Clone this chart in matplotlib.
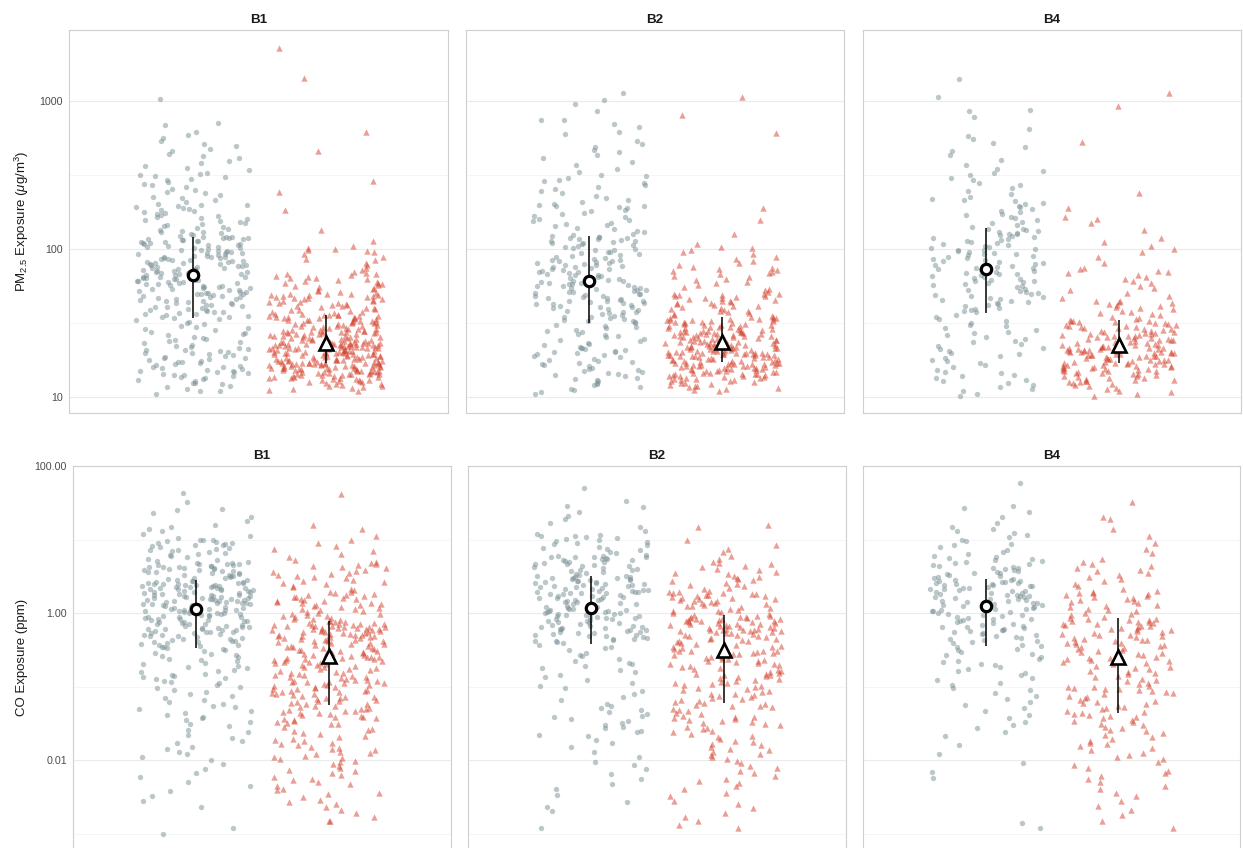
import numpy as np
import matplotlib
matplotlib.use("Agg")
import matplotlib.pyplot as plt
from matplotlib.ticker import FixedLocator, FixedFormatter, NullFormatter

plt.rcParams['font.family'] = ['Liberation Sans', 'DejaVu Sans']
plt.rcParams['mathtext.fontset'] = 'custom'
plt.rcParams['mathtext.rm'] = 'Liberation Sans'
plt.rcParams['mathtext.it'] = 'Liberation Sans:italic'

panels = ["B1", "B2", "B4"]

# ---------------- PM2.5 exposure (ug/m3) ----------------
pm25_b1_gray = [10.5, 10.9, 11.0, 11.4, 11.7, 11.8, 12.2, 12.4, 12.5, 12.9, 13.0, 13.2, 13.5, 13.6, 13.9, 14.0, 14.1, 14.4, 14.5, 14.7, 14.8, 14.9,
    15.1, 15.3, 15.4, 15.7, 15.9, 16.0, 16.3, 16.5, 16.6, 16.9, 17.2, 17.3, 17.6, 17.8, 18.0, 18.3, 18.4, 18.7, 19.0, 19.2, 19.4, 19.7, 19.9, 20.2, 20.4, 20.7, 20.9, 21.2, 21.5, 21.8,
    22.1, 22.6, 23.0, 23.4, 23.9, 24.3, 24.8, 25.2, 25.6, 26.1, 26.7, 27.1, 27.6, 28.2, 28.7, 29.3, 29.8, 30.4, 31.0, 31.7, 32.3, 33.0, 33.7,
    34.2, 34.6, 35.0, 35.3, 35.8, 36.2, 36.5, 37.0, 37.4, 37.7, 38.2, 38.6, 39.0, 39.5, 39.9, 40.3, 40.8, 41.2, 41.7, 42.1, 42.6, 43.0, 43.5, 44.0, 44.4, 44.9, 45.3, 45.8, 46.2, 46.7, 47.1, 47.6, 48.0, 48.5, 48.9, 49.3, 49.6, 49.9,
    50.3, 50.7, 51.2, 51.6, 52.1, 52.5, 53.0, 53.4, 53.9, 54.3, 54.8, 55.3, 55.7, 56.2, 56.7, 57.1, 57.6, 58.1, 58.5, 59.0, 59.5, 60.0, 60.5, 61.0, 61.5, 62.0, 62.4, 62.9, 63.3, 63.8, 64.3, 64.7, 65.2, 65.6, 66.1, 66.5, 66.9,
    67.4, 68.0, 68.5, 69.1, 69.7, 70.2, 70.8, 71.3, 71.9, 72.5, 73.0, 73.6, 74.2, 74.8, 75.4, 76.0, 76.6, 77.2, 77.8, 78.4, 79.0, 79.6, 80.2, 80.8, 81.4, 82.0, 82.6, 83.2, 83.8, 84.4, 85.1, 85.7, 86.4, 87.0, 87.7, 88.4, 89.0, 89.7,
    90.4, 91.2, 92.0, 92.8, 93.5, 94.3, 95.1, 95.9, 96.7, 97.5, 98.3, 99.1, 99.9, 101, 102, 103, 104, 104.8, 105.7, 106.5, 107.4, 108.3, 109.2, 110, 111, 112, 112.8, 113.7, 114.6, 115.5, 116.4, 117.3, 118, 118.6, 119.2, 119.7, 120,
    121, 123, 124, 126, 128, 130, 131, 133, 135, 137, 139, 141, 143, 145, 147, 150, 152, 154, 157, 159, 162, 164, 167, 170, 172, 175, 178, 181, 184, 187, 190, 192, 195, 197, 199,
    203, 209, 214, 220, 226, 231, 238, 244, 250, 256, 263, 270, 277, 284, 291, 298, 305, 310, 315, 319,
    327, 340, 352, 365, 380, 393, 410, 425, 440, 458, 475, 495, 515, 540, 560, 590, 620, 690, 710, 1030]
pm25_b1_red = [11.0, 11.2, 11.3, 11.5, 11.6, 11.8, 11.9, 12.1, 12.2, 12.3, 12.5, 12.6, 12.7, 12.8, 12.9,
    13.0, 13.1, 13.1, 13.2, 13.3, 13.4, 13.4, 13.5, 13.6, 13.7, 13.7, 13.8, 13.9, 14.0, 14.0, 14.1, 14.2, 14.2, 14.3, 14.4, 14.4, 14.5, 14.6, 14.6, 14.7, 14.8, 14.8, 14.9, 14.9, 15.0,
    15.1, 15.1, 15.2, 15.2, 15.3, 15.4, 15.4, 15.5, 15.5, 15.6, 15.7, 15.7, 15.8, 15.8, 15.9, 16.0, 16.0, 16.1, 16.1, 16.2, 16.3, 16.3, 16.4, 16.4, 16.5, 16.5, 16.6, 16.6, 16.7, 16.7, 16.8, 16.8, 16.9, 16.9, 17.0, 17.0, 17.0,
    17.1, 17.1, 17.2, 17.3, 17.3, 17.4, 17.5, 17.5, 17.6, 17.7, 17.7, 17.8, 17.9, 18.0, 18.0, 18.1, 18.2, 18.2, 18.3, 18.4, 18.5, 18.5, 18.6, 18.7, 18.8, 18.8, 18.9, 19.0, 19.1, 19.1, 19.2, 19.3, 19.4, 19.4, 19.5, 19.6, 19.7, 19.7, 19.8, 19.9, 19.9, 20.0,
    20.1, 20.2, 20.3, 20.3, 20.4, 20.5, 20.6, 20.7, 20.8, 20.9, 20.9, 21.0, 21.1, 21.2, 21.3, 21.4, 21.4, 21.5, 21.6, 21.7, 21.8, 21.9, 21.9, 22.0, 22.1, 22.2, 22.2, 22.3, 22.4, 22.5, 22.5, 22.6, 22.7, 22.7, 22.8, 22.8, 22.9, 22.9, 23.0, 23.0, 23.0,
    23.1, 23.2, 23.4, 23.5, 23.6, 23.7, 23.9, 24.0, 24.1, 24.3, 24.4, 24.5, 24.7, 24.8, 24.9, 25.1, 25.2, 25.3, 25.5, 25.6, 25.8, 25.9, 26.0, 26.2, 26.3, 26.5, 26.6, 26.7, 26.9, 27.0, 27.1, 27.3, 27.4, 27.5, 27.6, 27.7, 27.8, 27.9, 27.9, 28.0,
    28.2, 28.4, 28.6, 28.8, 29.0, 29.2, 29.4, 29.6, 29.8, 30.0, 30.2, 30.4, 30.6, 30.8, 31.0, 31.2, 31.4, 31.6, 31.8, 32.0, 32.2, 32.4, 32.6, 32.8, 33.0, 33.2, 33.4, 33.6, 33.8, 34.0, 34.2, 34.4, 34.6, 34.8, 35.0, 35.2, 35.4, 35.5, 35.6, 35.7, 35.8, 35.9,
    36.3, 36.6, 37.0, 37.4, 37.8, 38.1, 38.5, 38.9, 39.3, 39.7, 40.1, 40.5, 40.9, 41.3, 41.7, 42.1, 42.5, 42.9, 43.3, 43.7, 44.1, 44.5, 44.9, 45.3, 45.7, 46.1, 46.5, 46.9, 47.3, 47.7, 48.0, 48.3, 48.6, 48.9, 49.2, 49.5, 49.7, 49.9,
    50.5, 51.3, 52.1, 52.9, 53.7, 54.5, 55.3, 56.1, 56.9, 57.7, 58.5, 59.3, 60.1, 60.9, 61.7, 62.5, 63.3, 64.1, 64.9, 65.7, 66.5, 67.3, 68.1, 68.9, 69.7,
    72, 75, 78, 81, 84, 86, 89, 92, 95, 97, 99, 100,
    102, 105, 114, 135, 184, 244, 290, 460, 613, 1435, 2280]
pm25_b2_gray = [10.5, 10.8, 11.1, 11.4, 11.7, 12.0, 12.3, 12.5, 12.8, 13.0, 13.3, 13.5, 13.8, 14.0, 14.2, 14.5, 14.7, 14.9,
    15.2, 15.5, 15.8, 16.1, 16.4, 16.7, 17.0, 17.3, 17.6, 17.9, 18.2, 18.5, 18.8, 19.1, 19.4, 19.7, 20.0, 20.3, 20.6, 20.9, 21.2, 21.4, 21.6, 21.9,
    22.3, 22.8, 23.3, 23.8, 24.3, 24.8, 25.3, 25.8, 26.3, 26.8, 27.3, 27.9, 28.5, 29.1, 29.7, 30.3, 30.9, 31.5,
    32.0, 32.4, 32.8, 33.2, 33.6, 34.0, 34.5, 35.0, 35.4, 35.8, 36.3, 36.8, 37.3, 37.8, 38.3, 38.8, 39.3, 39.8, 40.3, 40.8, 41.3, 41.8, 42.3, 42.7, 43.1, 43.5, 43.9, 44.3, 44.6, 44.9,
    45.4, 45.9, 46.4, 46.9, 47.4, 47.9, 48.4, 49.0, 49.5, 50.0, 50.5, 51.0, 51.6, 52.1, 52.6, 53.2, 53.8, 54.3, 54.9, 55.4, 56.0, 56.5, 57.1, 57.7, 58.2, 58.8, 59.4, 59.9, 60.4, 60.9,
    61.6, 62.4, 63.2, 64.0, 64.8, 65.6, 66.4, 67.2, 68.0, 68.8, 69.6, 70.4, 71.2, 72.0, 72.8, 73.6, 74.4, 75.2, 76.0, 76.8, 77.6, 78.4, 79.2, 80.0, 80.8, 81.6, 82.4, 83.2, 84.0, 84.8,
    86, 87, 88, 90, 91, 92, 94, 95, 96, 98, 99, 100, 102, 103, 105, 106, 108, 109, 110, 112, 113, 114, 115, 116, 117, 118, 119, 120, 121, 122,
    124, 127, 130, 133, 136, 139, 142, 145, 148, 151, 154, 157, 160, 164, 168, 172, 176, 180, 184, 188, 191, 194, 196, 198, 200,
    207, 215, 222, 230, 238, 246, 254, 262, 270, 278, 286, 294, 302, 310, 318,
    330, 350, 370, 390, 410, 430, 450, 470, 490, 515, 540, 600, 620, 670, 700, 740, 750, 850, 950, 1010, 1130]
pm25_b2_red = [11.0, 11.2, 11.3, 11.5, 11.6, 11.8, 11.9, 12.1, 12.2, 12.4, 12.5, 12.7, 12.8, 12.9,
    13.0, 13.1, 13.2, 13.3, 13.4, 13.5, 13.6, 13.7, 13.8, 13.9, 13.9, 14.0, 14.1, 14.2, 14.2, 14.3, 14.4, 14.5, 14.5, 14.6, 14.7, 14.8, 14.9, 15.0,
    15.1, 15.2, 15.2, 15.3, 15.4, 15.5, 15.5, 15.6, 15.7, 15.8, 15.8, 15.9, 16.0, 16.1, 16.1, 16.2, 16.3, 16.4, 16.4, 16.5, 16.6, 16.7, 16.7, 16.8, 16.9, 16.9, 17.0, 17.1, 17.1, 17.2,
    17.3, 17.4, 17.5, 17.6, 17.7, 17.8, 17.9, 18.0, 18.1, 18.2, 18.3, 18.4, 18.5, 18.6, 18.7, 18.8, 18.9, 19.0, 19.1, 19.1, 19.2, 19.3, 19.4, 19.4, 19.5, 19.6, 19.6, 19.7, 19.8, 19.8, 19.9, 19.9, 20.0,
    20.1, 20.2, 20.3, 20.4, 20.5, 20.6, 20.7, 20.8, 20.9, 21.0, 21.1, 21.2, 21.3, 21.4, 21.5, 21.6, 21.7, 21.8, 21.9, 22.0, 22.1, 22.2, 22.3, 22.4, 22.5, 22.6, 22.7, 22.8, 22.9, 23.0, 23.1, 23.2, 23.3, 23.4,
    23.6, 23.7, 23.9, 24.0, 24.1, 24.3, 24.4, 24.6, 24.7, 24.8, 25.0, 25.1, 25.3, 25.4, 25.5, 25.7, 25.8, 26.0, 26.1, 26.2, 26.4, 26.5, 26.7, 26.8, 26.9, 27.1, 27.2, 27.4, 27.5, 27.6, 27.7, 27.8, 27.9,
    28.1, 28.3, 28.5, 28.7, 28.9, 29.1, 29.3, 29.5, 29.7, 29.9, 30.1, 30.3, 30.5, 30.7, 30.9, 31.1, 31.3, 31.5, 31.7, 31.9, 32.1, 32.3, 32.5, 32.7, 32.9, 33.1, 33.3, 33.5, 33.7, 33.9, 34.1, 34.4, 34.7, 34.9,
    35.4, 35.9, 36.4, 36.9, 37.4, 37.9, 38.4, 38.9, 39.4, 39.9, 40.4, 40.9, 41.4, 41.9, 42.4, 42.9, 43.4, 43.9, 44.4, 44.9, 45.4, 45.9, 46.4, 46.9, 47.4, 47.9, 48.3, 48.7, 49.0, 49.3, 49.6, 49.9,
    51, 52.5, 54, 55.5, 57, 58.5, 60, 61.5, 63, 64.5, 66, 67.5, 69, 70, 71, 72, 73, 74,
    76, 78, 80, 83, 86, 89, 92, 95, 98, 101, 103, 108,
    126, 157, 190, 605, 810, 1070]
pm25_b4_gray = [10.2, 10.5, 10.9, 11.3, 11.7, 12.0, 12.4, 12.8, 13.1, 13.4, 13.8, 14.1, 14.5, 14.8,
    15.3, 15.9, 16.4, 16.9, 17.4, 17.9, 18.4, 18.9, 19.4, 19.9, 20.5, 21.0, 21.6, 22.2, 22.8, 23.4, 24.0, 24.6,
    25.3, 26.1, 26.9, 27.7, 28.5, 29.3, 30.1, 30.9, 31.8, 32.7, 33.6, 34.6, 35.7,
    37.4, 38.1, 38.8, 39.5, 40.2, 40.9, 41.6, 42.3, 43.0, 43.7, 44.4, 45.1, 45.8, 46.5, 47.3, 48.1, 48.9, 49.7, 50.5, 51.3, 52.2, 53.1, 54.0,
    55.6, 56.4, 57.2, 58.0, 58.8, 59.6, 60.4, 61.2, 62.0, 62.9, 63.8, 64.7, 65.6, 66.5, 67.4, 68.3, 69.2, 70.1, 71.0, 71.9, 72.5, 72.9,
    74, 75, 76, 77, 78, 79.5, 81, 82, 83, 84.5, 86, 87, 88, 89.5, 91, 92, 93, 94.5, 96, 97, 98, 99, 99.8,
    101, 103, 104.5, 106, 108, 110, 111.5, 113, 115, 117, 118.5, 120, 122, 124, 125.5, 127, 129, 131, 132.5, 134, 136, 137.5,
    141, 145, 149, 153, 157, 161, 165, 169, 173, 177, 181, 186, 191, 196, 201, 206, 211, 215, 219,
    226, 237, 248, 259, 270, 281, 292, 303, 314, 325, 336, 347,
    370, 400, 430, 460, 490, 520, 550, 580, 650, 780, 850, 870, 1070, 1410]
pm25_b4_red = [10.2, 10.5, 10.8, 11.0, 11.3, 11.5, 11.8, 12.0, 12.2, 12.4, 12.6, 12.7, 12.8, 12.9,
    13.0, 13.1, 13.3, 13.4, 13.5, 13.7, 13.8, 13.9, 14.1, 14.2, 14.3, 14.5, 14.6, 14.7, 14.9, 15.0,
    15.1, 15.2, 15.3, 15.4, 15.5, 15.6, 15.7, 15.8, 15.9, 16.0, 16.1, 16.2, 16.3, 16.4, 16.5, 16.6, 16.7, 16.8, 16.9, 17.0,
    17.1, 17.2, 17.3, 17.5, 17.6, 17.7, 17.8, 17.9, 18.0, 18.2, 18.3, 18.4, 18.5, 18.6, 18.8, 18.9, 19.0, 19.1, 19.2, 19.3, 19.5, 19.6, 19.7, 19.8, 19.9,
    20.0, 20.1, 20.2, 20.3, 20.4, 20.5, 20.6, 20.7, 20.8, 20.9, 21.0, 21.1, 21.2, 21.3, 21.4, 21.5, 21.6, 21.7, 21.8, 21.9, 22.0, 22.1, 22.2, 22.3, 22.4,
    22.6, 22.8, 23.0, 23.2, 23.3, 23.5, 23.7, 23.9, 24.1, 24.2, 24.4, 24.6, 24.8, 25.0, 25.1, 25.3, 25.5, 25.7, 25.9, 26.0, 26.2, 26.4, 26.6, 26.8, 26.9,
    27.1, 27.4, 27.6, 27.9, 28.1, 28.4, 28.6, 28.9, 29.1, 29.4, 29.6, 29.9, 30.1, 30.4, 30.6, 30.9, 31.1, 31.4, 31.6, 31.9, 32.1, 32.4, 32.6, 32.8, 32.9,
    33.5, 34.2, 34.9, 35.6, 36.3, 37.0, 37.7, 38.4, 39.1, 39.8, 40.5, 41.2, 41.9, 42.6, 43.3, 44.0, 44.5, 44.9,
    46.5, 48.5, 50.5, 52.5, 54.5, 56.5, 58.5, 60.5, 62.5, 64.5, 66.5, 68.5, 70, 71.5, 73, 74.5,
    80, 88, 95, 100, 105,
    112, 118, 134, 150, 160, 165, 190, 240, 525, 920, 1140]

# ---------------- CO exposure (ppm) ----------------
co_b1_gray = [0.0010, 0.0012, 0.0023, 0.0028,
    0.0032, 0.0038, 0.0045, 0.0050, 0.0058, 0.0066, 0.0075, 0.0088,
    0.010, 0.011, 0.012, 0.013, 0.014, 0.015, 0.017, 0.018, 0.020, 0.022, 0.024, 0.026, 0.029,
    0.031, 0.033, 0.035, 0.037, 0.039, 0.041, 0.044, 0.046, 0.049, 0.052, 0.055, 0.058, 0.062, 0.066, 0.070, 0.074, 0.079, 0.084, 0.090, 0.096,
    0.10, 0.105, 0.11, 0.115, 0.12, 0.125, 0.13, 0.135, 0.14, 0.145, 0.15, 0.16, 0.165, 0.17, 0.18, 0.185, 0.19, 0.20, 0.21, 0.22, 0.23, 0.24, 0.25, 0.26, 0.27, 0.28, 0.29, 0.30, 0.31, 0.32,
    0.335, 0.34, 0.35, 0.36, 0.365, 0.37, 0.38, 0.39, 0.40, 0.405, 0.41, 0.42, 0.43, 0.44, 0.45, 0.46, 0.47, 0.48, 0.49, 0.50, 0.51, 0.52, 0.53, 0.54, 0.55, 0.555, 0.56, 0.57, 0.58, 0.59, 0.60, 0.61, 0.615, 0.62, 0.63, 0.64, 0.645,
    0.66, 0.67, 0.68, 0.70, 0.71, 0.72, 0.73, 0.75, 0.76, 0.77, 0.79, 0.80, 0.81, 0.83, 0.84, 0.85, 0.87, 0.88, 0.89, 0.91, 0.92, 0.93, 0.95, 0.96, 0.97, 0.99, 1.00, 1.01, 1.03, 1.04, 1.05, 1.06, 1.07, 1.08, 1.09, 1.10, 1.11, 1.12,
    1.14, 1.16, 1.17, 1.19, 1.21, 1.22, 1.24, 1.26, 1.27, 1.29, 1.31, 1.32, 1.34, 1.36, 1.37, 1.39, 1.41, 1.42, 1.44, 1.46, 1.47, 1.49, 1.51, 1.52, 1.54, 1.56, 1.57, 1.59, 1.61, 1.62, 1.64, 1.66, 1.68, 1.70, 1.72, 1.74, 1.76, 1.78,
    1.81, 1.84, 1.86, 1.89, 1.91, 1.94, 1.96, 1.99, 2.01, 2.04, 2.06, 2.09, 2.11, 2.14, 2.16, 2.19, 2.21, 2.24, 2.26, 2.29, 2.31, 2.34, 2.36, 2.39, 2.41, 2.44, 2.46, 2.49, 2.51, 2.54, 2.56, 2.59, 2.62, 2.65, 2.70, 2.74, 2.78,
    2.85, 2.91, 2.97, 3.03, 3.09, 3.15, 3.21, 3.27, 3.33, 3.39, 3.45, 3.51, 3.57, 3.63, 3.69, 3.75, 3.81, 3.87, 3.93, 3.99, 4.05, 4.11, 4.17, 4.23, 4.29, 4.35, 4.41, 4.47, 4.53, 4.59, 4.65, 4.71, 4.77, 4.85, 4.95,
    5.1, 5.3, 5.5, 5.7, 5.9, 6.1, 6.3, 6.5, 6.7, 6.9, 7.1, 7.3, 7.5, 7.7, 7.9, 8.1, 8.3, 8.5, 8.7, 8.9, 9.1, 9.3, 9.5, 9.7, 9.8, 9.9,
    10.5, 11, 12, 13, 14, 15, 16, 18, 20, 23, 25, 26, 32, 43]
co_b1_red = [0.0015, 0.0015, 0.0017, 0.0019, 0.0021, 0.0023, 0.0025, 0.0027, 0.0029,
    0.0031, 0.0034, 0.0036, 0.0039, 0.0041, 0.0044, 0.0047, 0.0050, 0.0053, 0.0056, 0.0059, 0.0062, 0.0066, 0.0070, 0.0074, 0.0078, 0.0083, 0.0088, 0.0093, 0.0098,
    0.0102, 0.0106, 0.011, 0.0115, 0.012, 0.0125, 0.013, 0.0135, 0.014, 0.0146, 0.0152, 0.0158, 0.0165, 0.0172, 0.018, 0.0188, 0.0196, 0.0205, 0.0214, 0.0224, 0.0234, 0.0245, 0.0256, 0.0268, 0.028,
    0.0305, 0.031, 0.032, 0.033, 0.034, 0.035, 0.036, 0.037, 0.038, 0.039, 0.040, 0.041, 0.042, 0.043, 0.044, 0.045, 0.046, 0.047, 0.048, 0.049, 0.050, 0.051, 0.052, 0.054, 0.055,
    0.057, 0.058, 0.060, 0.061, 0.063, 0.064, 0.066, 0.067, 0.069, 0.070, 0.072, 0.073, 0.075, 0.077, 0.078, 0.080, 0.082, 0.083, 0.085, 0.087, 0.088, 0.090, 0.092, 0.094, 0.096, 0.098, 0.100, 0.102, 0.104, 0.106, 0.108, 0.110, 0.112, 0.114, 0.115, 0.116, 0.118, 0.119,
    0.121, 0.124, 0.127, 0.130, 0.133, 0.136, 0.139, 0.142, 0.145, 0.148, 0.151, 0.155, 0.159, 0.163, 0.167, 0.171, 0.175, 0.179, 0.183, 0.187, 0.191, 0.195, 0.199, 0.203, 0.207, 0.211, 0.215, 0.219, 0.223, 0.227, 0.231, 0.235, 0.239, 0.243, 0.247, 0.250, 0.253, 0.256, 0.259,
    0.265, 0.27, 0.275, 0.28, 0.285, 0.29, 0.295, 0.30, 0.305, 0.31, 0.315, 0.32, 0.33, 0.335, 0.34, 0.35, 0.355, 0.36, 0.37, 0.375, 0.38, 0.39, 0.395, 0.40, 0.41, 0.415, 0.42, 0.43, 0.435, 0.44, 0.45, 0.455, 0.46, 0.47, 0.475, 0.48, 0.485, 0.49, 0.495,
    0.505, 0.51, 0.52, 0.525, 0.53, 0.54, 0.545, 0.55, 0.56, 0.565, 0.57, 0.58, 0.585, 0.59, 0.60, 0.605, 0.61, 0.62, 0.625, 0.63, 0.64, 0.645, 0.65, 0.66, 0.665, 0.67, 0.68, 0.685, 0.69, 0.70, 0.71, 0.72, 0.73, 0.74, 0.75, 0.76, 0.77, 0.78,
    0.80, 0.82, 0.84, 0.86, 0.88, 0.90, 0.92, 0.94, 0.96, 0.98, 1.00, 1.03, 1.06, 1.09, 1.12, 1.15, 1.18, 1.21, 1.24, 1.27, 1.30, 1.33, 1.36, 1.39, 1.42, 1.45, 1.48, 1.51, 1.54, 1.57, 1.60, 1.63, 1.66, 1.70, 1.74, 1.78, 1.82, 1.86, 1.91, 1.96,
    2.05, 2.15, 2.25, 2.35, 2.45, 2.55, 2.65, 2.75, 2.85, 2.95, 3.05, 3.15, 3.25, 3.35, 3.45, 3.6, 3.75, 3.9, 4.05, 4.2, 4.35, 4.5, 4.65, 4.8, 4.95,
    5.3, 5.8, 6.3, 6.9, 7.5, 8.2, 9.0, 9.8, 11, 14, 16, 42]
co_b2_gray = [0.0012, 0.0020, 0.0023, 0.0027, 0.0033, 0.0040, 0.0047,
    0.0055, 0.0065, 0.0075, 0.0085, 0.0095, 0.011, 0.013, 0.015, 0.017, 0.019,
    0.021, 0.022, 0.024, 0.025, 0.027, 0.028, 0.030, 0.032, 0.034, 0.036, 0.038, 0.040, 0.042, 0.045, 0.048, 0.051, 0.054, 0.058,
    0.065, 0.072, 0.080, 0.088, 0.095, 0.103, 0.112, 0.122, 0.133, 0.145,
    0.16, 0.17, 0.18, 0.19, 0.20, 0.21, 0.22, 0.24, 0.26, 0.27, 0.29, 0.31, 0.33, 0.35, 0.37,
    0.39, 0.40, 0.41, 0.42, 0.43, 0.44, 0.45, 0.46, 0.47, 0.48, 0.49, 0.50, 0.51, 0.52, 0.53, 0.54, 0.55, 0.56, 0.57, 0.58, 0.59, 0.60, 0.61, 0.62, 0.63, 0.64, 0.65, 0.66, 0.67, 0.69,
    0.71, 0.73, 0.74, 0.76, 0.77, 0.79, 0.80, 0.82, 0.83, 0.85, 0.86, 0.88, 0.89, 0.91, 0.92, 0.94, 0.95, 0.97, 0.98, 1.00, 1.01, 1.03, 1.04, 1.06, 1.07, 1.09, 1.10, 1.12, 1.14, 1.16,
    1.19, 1.22, 1.25, 1.28, 1.31, 1.34, 1.37, 1.40, 1.43, 1.46, 1.49, 1.52, 1.55, 1.58, 1.61, 1.64, 1.67, 1.70, 1.73, 1.76, 1.79, 1.82, 1.85, 1.88, 1.90, 1.92, 1.94, 1.96, 1.98, 1.99,
    2.03, 2.07, 2.11, 2.15, 2.19, 2.23, 2.27, 2.31, 2.35, 2.39, 2.43, 2.47, 2.51, 2.55, 2.59, 2.63, 2.67, 2.71, 2.75, 2.79, 2.83, 2.87, 2.91, 2.95, 2.99, 3.03, 3.07, 3.11, 3.15, 3.19,
    3.3, 3.4, 3.5, 3.6, 3.7, 3.8, 3.9, 4.0, 4.1, 4.2, 4.3, 4.4, 4.5, 4.6, 4.7, 4.8, 4.9, 5.0, 5.1, 5.2, 5.3, 5.4, 5.5, 5.6, 5.7, 5.75, 5.8, 5.85, 5.9, 5.95,
    6.2, 6.5, 6.8, 7.1, 7.4, 7.7, 8.0, 8.3, 8.6, 8.9, 9.2, 9.5, 9.8, 10.1, 10.4, 10.7, 11.0, 11.3, 11.6, 11.9,
    13, 15, 17, 19, 21, 24, 28, 29, 33, 50]
co_b2_red = [0.0012, 0.0013, 0.0015, 0.0017, 0.0019, 0.0022, 0.0025, 0.0028,
    0.0032, 0.0036, 0.0040, 0.0044, 0.0048, 0.0052, 0.0056, 0.0061, 0.0066, 0.0071, 0.0077, 0.0083, 0.0090, 0.0097,
    0.0104, 0.011, 0.0116, 0.0122, 0.0128, 0.0135, 0.0142, 0.015, 0.0158, 0.0166, 0.0175, 0.0184, 0.0194, 0.0204, 0.0215, 0.0226, 0.0238, 0.025, 0.0262, 0.0274, 0.0286, 0.0298,
    0.031, 0.032, 0.033, 0.034, 0.035, 0.036, 0.037, 0.038, 0.039, 0.040, 0.042, 0.044, 0.046, 0.048, 0.050, 0.052, 0.054, 0.055, 0.056, 0.058, 0.059,
    0.062, 0.064, 0.066, 0.068, 0.070, 0.072, 0.074, 0.076, 0.078, 0.080, 0.083, 0.086, 0.089, 0.092, 0.095, 0.098, 0.101, 0.104, 0.107, 0.110, 0.113, 0.116, 0.119, 0.122, 0.126, 0.130, 0.134, 0.138, 0.142, 0.145, 0.147, 0.149,
    0.155, 0.16, 0.165, 0.17, 0.175, 0.18, 0.185, 0.19, 0.195, 0.20, 0.205, 0.21, 0.215, 0.22, 0.225, 0.23, 0.235, 0.24, 0.245, 0.25, 0.255, 0.26, 0.265, 0.27, 0.275, 0.28, 0.285, 0.29, 0.295, 0.30, 0.303, 0.306, 0.309,
    0.32, 0.33, 0.34, 0.35, 0.36, 0.37, 0.38, 0.39, 0.40, 0.41, 0.42, 0.43, 0.44, 0.45, 0.46, 0.47, 0.48, 0.49, 0.50, 0.51, 0.52, 0.53, 0.54, 0.55, 0.56, 0.565, 0.57, 0.575, 0.58, 0.585, 0.59, 0.595, 0.60,
    0.61, 0.62, 0.63, 0.64, 0.65, 0.66, 0.67, 0.68, 0.69, 0.70, 0.71, 0.72, 0.73, 0.74, 0.75, 0.76, 0.77, 0.78, 0.79, 0.80, 0.81, 0.82, 0.83, 0.84, 0.85, 0.86, 0.87, 0.88, 0.89, 0.90, 0.91, 0.93,
    0.96, 0.99, 1.02, 1.05, 1.08, 1.11, 1.14, 1.17, 1.20, 1.23, 1.26, 1.29, 1.32, 1.35, 1.38, 1.41, 1.44, 1.47, 1.50, 1.53, 1.56, 1.59, 1.62, 1.65, 1.68, 1.71, 1.74, 1.77, 1.80, 1.83, 1.86, 1.89, 1.92, 1.95, 1.98,
    2.1, 2.2, 2.3, 2.4, 2.5, 2.6, 2.7, 2.8, 2.9, 3.0, 3.1, 3.2, 3.4, 3.5, 3.6, 3.8, 4.0, 4.2, 4.4, 4.6, 4.8, 4.9,
    5.4, 6.0, 6.8, 7.5, 8.5, 10, 15, 16]
co_b4_gray = [0.0012, 0.0014, 0.0057, 0.0069, 0.009, 0.012, 0.016,
    0.021, 0.024, 0.027, 0.030, 0.033, 0.037, 0.041, 0.046, 0.051, 0.056,
    0.062, 0.068, 0.075, 0.082, 0.089, 0.096, 0.104, 0.113, 0.122, 0.132, 0.143,
    0.155, 0.165, 0.175, 0.185, 0.195, 0.205, 0.215, 0.225, 0.24, 0.25, 0.265, 0.28, 0.295, 0.31, 0.325, 0.34, 0.355,
    0.37, 0.385, 0.40, 0.415, 0.43, 0.445, 0.46, 0.475, 0.49, 0.505, 0.52, 0.535, 0.55, 0.565, 0.58, 0.595, 0.61, 0.625, 0.64, 0.655, 0.67, 0.69,
    0.72, 0.74, 0.76, 0.78, 0.80, 0.82, 0.84, 0.86, 0.89, 0.91, 0.93, 0.95, 0.97, 1.00, 1.02, 1.05, 1.07, 1.10, 1.12, 1.15, 1.18, 1.20, 1.23,
    1.27, 1.30, 1.33, 1.36, 1.39, 1.42, 1.45, 1.48, 1.51, 1.54, 1.57, 1.60, 1.63, 1.66, 1.69, 1.72, 1.75, 1.78, 1.82, 1.86, 1.90, 1.94, 1.98,
    2.02, 2.06, 2.10, 2.14, 2.18, 2.22, 2.26, 2.30, 2.34, 2.38, 2.42, 2.46, 2.50, 2.54, 2.58, 2.62, 2.66, 2.70, 2.74, 2.78, 2.82, 2.87,
    2.95, 3.05, 3.15, 3.25, 3.35, 3.45, 3.55, 3.65, 3.75, 3.85, 3.95, 4.05, 4.15, 4.25, 4.40, 4.55, 4.70, 4.85, 5.00, 5.15, 5.30, 5.45, 5.60, 5.75, 5.90,
    6.3, 6.8, 7.3, 7.8, 8.3, 8.8, 9.4, 10.0, 10.7, 11.4, 12.2, 13.0, 13.9, 14.8,
    17, 20, 24, 27, 29, 59]
co_b4_red = [0.0012, 0.0015, 0.0018, 0.0021, 0.0024, 0.0028,
    0.0032, 0.0036, 0.0040, 0.0045, 0.0050, 0.0055, 0.0060, 0.0066, 0.0072, 0.0079, 0.0086, 0.0094,
    0.0102, 0.011, 0.0118, 0.0126, 0.0135, 0.0144, 0.0153, 0.0163, 0.0173, 0.0184, 0.0195, 0.0207, 0.0219, 0.0232, 0.0245, 0.0258, 0.0272, 0.0286, 0.0298,
    0.031, 0.0325, 0.034, 0.0355, 0.037, 0.0385, 0.040, 0.041, 0.042, 0.043,
    0.045, 0.047, 0.049, 0.051, 0.053, 0.055, 0.057, 0.059, 0.061, 0.063, 0.066, 0.069, 0.072, 0.075, 0.078, 0.081, 0.084, 0.087, 0.090, 0.092, 0.094, 0.096, 0.098, 0.099,
    0.103, 0.108, 0.113, 0.118, 0.123, 0.128, 0.134, 0.140, 0.146, 0.152, 0.158, 0.165, 0.172, 0.179, 0.186, 0.193, 0.200, 0.207, 0.214, 0.221, 0.228, 0.235, 0.242, 0.248,
    0.255, 0.265, 0.275, 0.285, 0.295, 0.305, 0.315, 0.325, 0.335, 0.345, 0.355, 0.365, 0.375, 0.385, 0.395, 0.405, 0.415, 0.425, 0.435, 0.445, 0.455, 0.465, 0.48, 0.495,
    0.51, 0.525, 0.54, 0.555, 0.57, 0.585, 0.60, 0.615, 0.63, 0.645, 0.66, 0.675, 0.69, 0.705, 0.72, 0.735, 0.75, 0.765, 0.78, 0.795, 0.81, 0.825, 0.84, 0.855,
    0.89, 0.93, 0.97, 1.01, 1.05, 1.10, 1.15, 1.20, 1.25, 1.30, 1.35, 1.40, 1.45, 1.50, 1.55, 1.60, 1.65, 1.70, 1.75, 1.80, 1.85, 1.90, 1.95, 1.99,
    2.1, 2.3, 2.5, 2.7, 2.9, 3.1, 3.3, 3.5, 3.7, 3.9, 4.1, 4.3, 4.6, 4.9,
    5.5, 6.5, 7.5, 9, 11, 14, 19, 20, 32]

# summary (centre point and vertical range), order B1, B2, B4
pm25_mid_gray = [67, 61, 73]
pm25_lo_gray = [34, 31.6, 37]
pm25_hi_gray = [120, 122, 138]
pm25_mid_red = [23, 23.5, 22.5]
pm25_lo_red = [17, 17.2, 17]
pm25_hi_red = [36, 35, 33]
co_mid_gray = [1.13, 1.17, 1.24]
co_lo_gray = [0.33, 0.38, 0.36]
co_hi_gray = [2.8, 3.2, 2.9]
co_mid_red = [0.26, 0.31, 0.25]
co_lo_red = [0.056, 0.06, 0.044]
co_hi_red = [0.78, 0.94, 0.86]

pm25_ticks = [10, 100, 1000]
pm25_ticklabels = ["10", "100", "1000"]
co_ticks = [0.01, 1, 100]
co_ticklabels = ["0.01", "1.00", "100.00"]

GRAY = "#7a9096"
RED = "#d4412c"

W, H = 1243, 848
fig = plt.figure(figsize=(W / 100, H / 100), dpi=100)
fig.patch.set_facecolor("white")

rows = [
    dict(lefts=[69, 466, 863], rights=[448, 844, 1241], top=30, bottom=413,
         gray=[pm25_b1_gray, pm25_b2_gray, pm25_b4_gray], red=[pm25_b1_red, pm25_b2_red, pm25_b4_red],
         mg=pm25_mid_gray, lg=pm25_lo_gray, hg=pm25_hi_gray, mr=pm25_mid_red, lr=pm25_lo_red, hr=pm25_hi_red,
         ylim=(7.8, 3020), ticks=pm25_ticks, labels=pm25_ticklabels,
         minor=[10 ** 1.5, 10 ** 2.5],
         ylabel=r"PM$_{2.5}$ Exposure ($\mu$g/m$^{3}$)"),
    dict(lefts=[73, 468, 863], rights=[451, 846, 1240], top=466, bottom=849,
         gray=[co_b1_gray, co_b2_gray, co_b4_gray], red=[co_b1_red, co_b2_red, co_b4_red],
         mg=co_mid_gray, lg=co_lo_gray, hg=co_hi_gray, mr=co_mid_red, lr=co_lo_red, hr=co_hi_red,
         ylim=(10 ** -3.21, 100), ticks=co_ticks, labels=co_ticklabels,
         minor=[0.001, 0.1, 10],
         ylabel="CO Exposure (ppm)"),
]


def jitter(n, salt):
    i = np.arange(n, dtype=float)
    h = np.sin(i * 12.9898 + salt * 78.233) * 43758.5453
    return (h - np.floor(h)) - 0.5


JW = 0.86
for r, row in enumerate(rows):
    for c in range(3):
        l, rt = row["lefts"][c], row["rights"][c]
        ax = fig.add_axes([l / W, 1 - row["bottom"] / H, (rt - l) / W, (row["bottom"] - row["top"]) / H])
        ax.set_yscale("log")
        ax.set_xlim(0.07, 2.92)
        ax.set_ylim(*row["ylim"])
        g = np.asarray(row["gray"][c], float)
        rd = np.asarray(row["red"][c], float)
        ax.scatter(1 + JW * jitter(len(g), 3 * r + c + 1), g, s=15, marker="o", color=GRAY,
                   alpha=0.5, linewidths=0, zorder=2)
        ax.scatter(2 + JW * jitter(len(rd), 3 * r + c + 11), rd, s=21, marker="^", color=RED,
                   alpha=0.5, linewidths=0, zorder=2)
        ax.vlines([1], [row["lg"][c]], [row["hg"][c]], color="black", lw=1.1, zorder=3)
        ax.vlines([2], [row["lr"][c]], [row["hr"][c]], color="black", lw=1.1, zorder=3)
        ax.plot([1], [row["mg"][c]], marker="o", ms=7.5, mfc="white", mec="black", mew=2.3, zorder=4)
        ax.plot([2], [row["mr"][c]], marker="^", ms=10, mfc="white", mec="black", mew=1.9, zorder=4)

        ax.yaxis.set_major_locator(FixedLocator(row["ticks"]))
        ax.yaxis.set_major_formatter(FixedFormatter(row["labels"]))
        ax.yaxis.set_minor_locator(FixedLocator(row["minor"]))
        ax.yaxis.set_minor_formatter(NullFormatter())
        ax.grid(True, which="major", axis="y", color="#ebebeb", lw=0.8, zorder=0)
        ax.grid(True, which="minor", axis="y", color="#f4f4f4", lw=0.6, zorder=0)
        ax.set_axisbelow(True)
        ax.set_xticks([])
        ax.tick_params(axis="y", which="both", length=0, pad=4.3, labelsize=7.7, labelcolor="#4d4d4d")
        if c > 0:
            ax.tick_params(axis="y", labelleft=False)
        for sp in ax.spines.values():
            sp.set_color("#cfcfcf")
            sp.set_linewidth(0.8)
        ax.set_title(panels[c], fontsize=9.6, fontweight="bold", pad=5, color="#1a1a1a")
    ymid = (row["top"] + row["bottom"]) / 2
    fig.text(22 / W, 1 - ymid / H, row["ylabel"], rotation=90, ha="center", va="center",
             fontsize=9.5, color="#1a1a1a")

fig.savefig("out.png", dpi=100, facecolor="white")
